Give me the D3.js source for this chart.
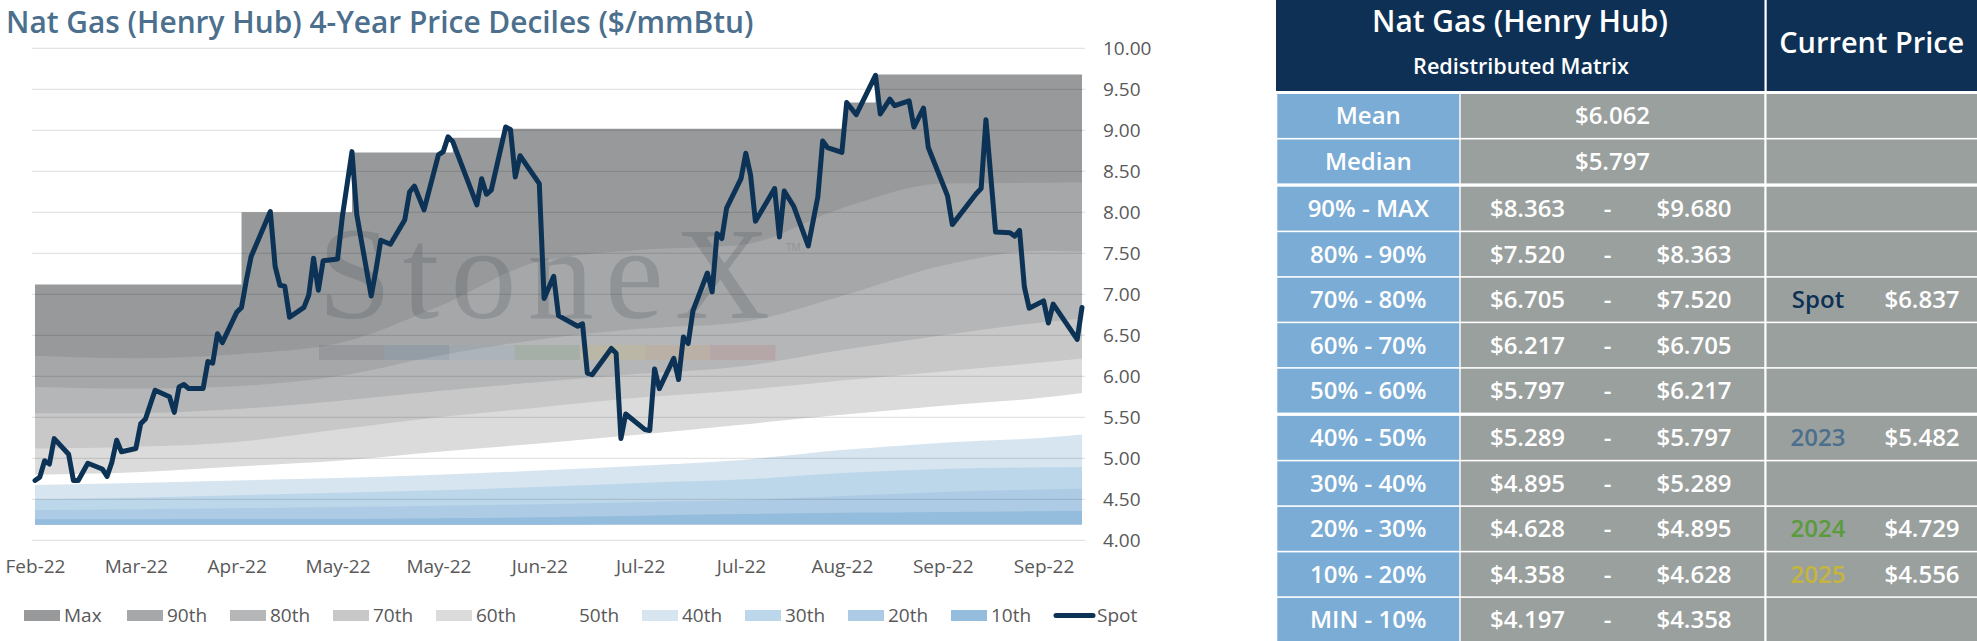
<!DOCTYPE html>
<html>
<head>
<meta charset="utf-8">
<script src="https://cdn.jsdelivr.net/npm/d3@7"></script>
<style>
  html, body { margin: 0; padding: 0; background: #fff; }
  svg { display: block; }
</style>
</head>
<body>
<svg id="chart" width="1977" height="641"></svg>
<script>
// spot price, one row per traded day that shows as a corner on the line
const spotSeries = [
  ["2022-02-28",4.73],["2022-03-01",4.77],["2022-03-02",4.97],["2022-03-03",4.93],["2022-03-04",5.24],
  ["2022-03-07",5.05],["2022-03-08",4.73],["2022-03-09",4.73],["2022-03-11",4.94],["2022-03-14",4.87],
  ["2022-03-15",4.78],["2022-03-16",4.95],["2022-03-17",5.22],["2022-03-18",5.08],["2022-03-21",5.12],
  ["2022-03-22",5.42],["2022-03-23",5.48],["2022-03-25",5.83],["2022-03-28",5.75],["2022-03-29",5.56],
  ["2022-03-30",5.87],["2022-03-31",5.90],["2022-04-01",5.85],["2022-04-04",5.85],["2022-04-05",6.18],
  ["2022-04-06",6.16],["2022-04-07",6.52],["2022-04-08",6.41],["2022-04-11",6.78],["2022-04-12",6.84],
  ["2022-04-13",7.17],["2022-04-14",7.46],["2022-04-18",8.01],["2022-04-19",7.34],["2022-04-20",7.11],
  ["2022-04-21",7.10],["2022-04-22",6.72],["2022-04-25",6.84],["2022-04-26",6.99],["2022-04-27",7.44],
  ["2022-04-28",7.05],["2022-04-29",7.41],["2022-05-02",7.43],["2022-05-03",7.95],["2022-05-05",8.74],
  ["2022-05-06",7.97],["2022-05-09",6.98],["2022-05-10",7.30],["2022-05-11",7.66],["2022-05-13",7.61],
  ["2022-05-16",7.91],["2022-05-17",8.25],["2022-05-18",8.32],["2022-05-20",8.03],["2022-05-23",8.70],
  ["2022-05-24",8.74],["2022-05-25",8.92],["2022-05-26",8.86],["2022-05-31",8.09],["2022-06-01",8.41],
  ["2022-06-02",8.22],["2022-06-03",8.27],["2022-06-06",9.04],["2022-06-07",9.01],["2022-06-08",8.43],
  ["2022-06-09",8.69],["2022-06-13",8.35],["2022-06-14",6.95],["2022-06-16",7.22],["2022-06-17",6.74],
  ["2022-06-21",6.61],["2022-06-22",6.64],["2022-06-23",6.04],["2022-06-24",6.02],["2022-06-28",6.34],
  ["2022-06-29",6.28],["2022-06-30",5.24],["2022-07-01",5.54],["2022-07-05",5.35],["2022-07-06",5.34],
  ["2022-07-07",6.09],["2022-07-08",5.85],["2022-07-11",6.22],["2022-07-12",5.96],["2022-07-13",6.48],
  ["2022-07-14",6.40],["2022-07-15",6.80],["2022-07-18",7.26],["2022-07-19",7.03],["2022-07-20",7.74],
  ["2022-07-21",7.68],["2022-07-22",8.05],["2022-07-25",8.41],["2022-07-26",8.72],["2022-07-27",8.45],
  ["2022-07-28",7.89],["2022-08-01",8.29],["2022-08-02",7.70],["2022-08-03",8.26],["2022-08-05",8.07],
  ["2022-08-08",7.59],["2022-08-10",8.19],["2022-08-11",8.87],["2022-08-12",8.79],["2022-08-15",8.73],
  ["2022-08-16",9.34],["2022-08-18",9.19],["2022-08-22",9.67],["2022-08-23",9.20],["2022-08-25",9.38],
  ["2022-08-26",9.30],["2022-08-29",9.36],["2022-08-30",9.04],["2022-09-01",9.27],["2022-09-02",8.79],
  ["2022-09-06",8.20],["2022-09-07",7.85],["2022-09-12",8.23],["2022-09-13",8.29],["2022-09-14",9.13],
  ["2022-09-16",7.76],["2022-09-19",7.75],["2022-09-20",7.71],["2022-09-21",7.78],["2022-09-22",7.09],
  ["2022-09-23",6.83],["2022-09-26",6.92],["2022-09-27",6.65],["2022-09-28",6.88],["2022-10-03",6.45],
  ["2022-10-04",6.84]
];

// rolling 4-year max (steps up when spot sets a new high)
const maxSeries = [
  ["2022-02-28",7.12],["2022-04-12",8.00],["2022-05-05",8.73],["2022-05-26",8.91],
  ["2022-06-06",9.02],["2022-08-16",9.34],["2022-08-22",9.68],["2022-10-04",9.68]
];

// decile levels, sampled every three weeks
const decileDates = ["2022-02-28","2022-03-21","2022-04-11","2022-05-02","2022-05-23","2022-06-13",
                     "2022-07-04","2022-07-25","2022-08-15","2022-09-05","2022-09-26","2022-10-04"];
const p90  = [6.25, 6.22, 6.27, 6.40, 6.85, 7.40, 7.54, 7.60, 8.05, 8.35, 8.36, 8.363];
const p80  = [5.87, 5.85, 5.88, 6.00, 6.25, 6.45, 6.58, 6.66, 6.98, 7.35, 7.53, 7.520];
const p70  = [5.55, 5.55, 5.60, 5.70, 5.82, 5.93, 6.03, 6.12, 6.32, 6.50, 6.66, 6.705];
const p60  = [5.12, 5.14, 5.20, 5.35, 5.50, 5.62, 5.74, 5.83, 5.95, 6.06, 6.17, 6.217];
const p50  = [4.80, 4.83, 4.90, 4.97, 5.08, 5.18, 5.29, 5.41, 5.53, 5.64, 5.74, 5.797];
const p40  = [4.675, 4.70, 4.73, 4.76, 4.80, 4.85, 4.91, 4.98, 5.10, 5.19, 5.25, 5.289];
const p30  = [4.50, 4.52, 4.55, 4.58, 4.61, 4.65, 4.70, 4.74, 4.82, 4.87, 4.89, 4.895];
const p20  = [4.37, 4.38, 4.39, 4.405, 4.42, 4.44, 4.465, 4.49, 4.54, 4.59, 4.62, 4.628];
const p10  = [4.256, 4.257, 4.26, 4.26, 4.27, 4.28, 4.30, 4.32, 4.335, 4.345, 4.355, 4.358];
const pMin = [4.19, 4.19, 4.19, 4.19, 4.19, 4.19, 4.195, 4.195, 4.197, 4.197, 4.197, 4.197];

const tickDates = ["2022-02-28","2022-03-21","2022-04-11","2022-05-02","2022-05-23","2022-06-13",
                   "2022-07-04","2022-07-25","2022-08-15","2022-09-05","2022-09-26"];
const yTickValues = [4.0, 4.5, 5.0, 5.5, 6.0, 6.5, 7.0, 7.5, 8.0, 8.5, 9.0, 9.5, 10.0];

const legendNames = ["Max","90th","80th","70th","60th","50th","40th","30th","20th","10th","Spot"];

// table
const statNames = ["Mean","Median"];
const statValues = [6.062, 5.797];
const rangeNames = ["90% - MAX","80% - 90%","70% - 80%","60% - 70%","50% - 60%",
                    "40% - 50%","30% - 40%","20% - 30%","10% - 20%","MIN - 10%"];
const rangeLow  = [8.363, 7.520, 6.705, 6.217, 5.797, 5.289, 4.895, 4.628, 4.358, 4.197];
const rangeHigh = [9.680, 8.363, 7.520, 6.705, 6.217, 5.797, 5.289, 4.895, 4.628, 4.358];
const currentNames  = ["Spot","2023","2024","2025"];
const currentValues = [6.837, 5.482, 4.729, 4.556];

// ---------------------------------------------------------------
const FONT = "'Open Sans', 'Noto Sans', sans-serif";
const parse = d3.utcParse("%Y-%m-%d");
const svg = d3.select("#chart");

const bandColor = {
  "Max":"#98999b","90th":"#a6a7a9","80th":"#b5b6b8","70th":"#c8c8c8","60th":"#dbdbdb",
  "50th":"#ffffff","40th":"#d7e5f1","30th":"#bdd7ea","20th":"#adcbe4","10th":"#94bcdd","Spot":"#0c3355"
};
const bandValues = {"90th":p90,"80th":p80,"70th":p70,"60th":p60,"50th":p50,"40th":p40,"30th":p30,"20th":p20,"10th":p10};

const x = d3.scaleUtc()
  .domain([parse(decileDates[0]), parse(decileDates[decileDates.length - 1])])
  .range([35, 1082]);
const y = d3.scaleLinear().domain([4, 10]).range([540.3, 48.3]);

function fitWidth(sel, target){
  let w = sel.node().getComputedTextLength();
  let fs = parseFloat(sel.attr("font-size"));
  sel.attr("font-size", fs * target / w);
}

// title
let title = svg.append("text")
  .attr("x", 6).attr("y", 33)
  .attr("font-family", FONT).attr("font-weight", 600).attr("font-size", 30)
  .attr("fill", "#4b6f8c")
  .text("Nat Gas (Henry Hub) 4-Year Price Deciles ($/mmBtu)");
fitWidth(title, 748);

// bands, painted from the top one down; each runs down to the min line
let chart = svg.append("g");
let floor = y(d3.min(pMin));
chart.append("path")
  .datum(maxSeries)
  .attr("d", d3.area().curve(d3.curveStepAfter)
    .x(d => x(parse(d[0]))).y0(floor).y1(d => y(d[1])))
  .attr("fill", bandColor["Max"]);

Object.keys(bandValues).forEach(name => {
  let rows = decileDates.map((d, i) => ({date: parse(d), v: bandValues[name][i], lo: pMin[i]}));
  chart.append("path")
    .datum(rows)
    .attr("d", d3.area().curve(d3.curveMonotoneX)
      .x(r => x(r.date)).y0(r => y(r.lo)).y1(r => y(r.v)))
    .attr("fill", bandColor[name]);
});

// gridlines sit over the bands
chart.selectAll(".grid")
  .data(yTickValues)
  .enter().append("line")
  .attr("class", "grid")
  .attr("x1", 32).attr("x2", 1085)
  .attr("y1", d => y(d)).attr("y2", d => y(d))
  .attr("stroke", "#000").attr("stroke-opacity", 0.14).attr("stroke-width", 1);

// watermark
let wm = chart.append("g").attr("opacity", 0.2);
wm.append("text")
  .attr("x", 318).attr("y", 318)
  .attr("font-family", "'Liberation Serif', 'DejaVu Serif', serif")
  .attr("font-size", 132)
  .attr("textLength", 452).attr("lengthAdjust", "spacing")
  .attr("fill", "#3d4650")
  .text("StoneX");
wm.append("text")
  .attr("x", 786).attr("y", 251)
  .attr("font-family", FONT).attr("font-size", 10)
  .attr("fill", "#3d4650")
  .text("TM");
const stripColors = ["#3b4148","#2f5f8f","#7fa8cc","#4b8a4b","#d8bd3a","#e08d3a","#b5484b"];
wm.selectAll(".strip")
  .data(stripColors)
  .enter().append("rect")
  .attr("class", "strip")
  .attr("x", (d, i) => 319 + i * 65.2).attr("y", 345)
  .attr("width", 65.2).attr("height", 15)
  .attr("fill", d => d)
  .attr("opacity", 0.7);

// spot line
chart.append("path")
  .datum(spotSeries)
  .attr("d", d3.line().x(d => x(parse(d[0]))).y(d => y(d[1])))
  .attr("fill", "none")
  .attr("stroke", bandColor["Spot"])
  .attr("stroke-width", 5)
  .attr("stroke-linejoin", "round")
  .attr("stroke-linecap", "round");

// axes
let xAxis = svg.append("g")
  .attr("transform", "translate(0,559)")
  .call(d3.axisBottom(x)
    .tickValues(tickDates.map(parse))
    .tickFormat(d3.utcFormat("%b-%y"))
    .tickSize(0).tickPadding(0));
xAxis.select(".domain").remove();
xAxis.selectAll("text")
  .attr("font-family", FONT).attr("font-size", 19).attr("fill", "#595959");

let yAxis = svg.append("g")
  .attr("transform", "translate(1103,0)")
  .call(d3.axisRight(y)
    .tickValues(yTickValues)
    .tickFormat(d3.format(".2f"))
    .tickSize(0).tickPadding(0));
yAxis.select(".domain").remove();
yAxis.selectAll("text")
  .attr("font-family", FONT).attr("font-size", 19).attr("fill", "#595959");

// legend
let legend = svg.append("g").attr("transform", "translate(24,615.5)");
let item = legend.selectAll(".item")
  .data(legendNames)
  .enter().append("g")
  .attr("class", "item")
  .attr("transform", (d, i) => `translate(${i * 103},0)`);
item.filter(d => d !== "Spot").append("rect")
  .attr("x", 0).attr("y", -5.5).attr("width", 36).attr("height", 11)
  .attr("fill", d => bandColor[d]);
item.filter(d => d === "Spot").append("line")
  .attr("x1", 2).attr("x2", 39).attr("y1", 0).attr("y2", 0)
  .attr("stroke", bandColor["Spot"]).attr("stroke-width", 5).attr("stroke-linecap", "round");
item.append("text")
  .attr("x", d => d === "Spot" ? 43 : 40).attr("y", 0).attr("dy", "0.36em")
  .attr("font-family", FONT).attr("font-size", 19).attr("fill", "#595959")
  .text(d => d);

// ---------------- table ----------------
const tb = {left: 1276, right: 1977, headBottom: 91, sep: 1764.5,
            aL: 1277.3, aR: 1459.3, bL: 1460.7, bR: 1764.3, cL: 1766.5,
            top: 94, pitch: 45.5, cellH: 43.9, thick: 1.7};
const NAVY = "#0d3054", BLUE = "#7bacd5", GREY = "#9aa09e";
const fmt = d3.format("$.3f");
let table = svg.append("g");

table.append("rect")
  .attr("x", tb.left).attr("y", 0).attr("width", tb.right - tb.left).attr("height", tb.headBottom)
  .attr("fill", NAVY);
table.append("rect")
  .attr("x", tb.sep).attr("y", 0).attr("width", 2.2).attr("height", tb.headBottom)
  .attr("fill", "#fff");

let h1 = table.append("text")
  .attr("x", 1520).attr("y", 32).attr("text-anchor", "middle")
  .attr("font-family", FONT).attr("font-weight", 600).attr("font-size", 26).attr("fill", "#fff")
  .text("Nat Gas (Henry Hub)");
fitWidth(h1, 296);
let h2 = table.append("text")
  .attr("x", 1521).attr("y", 74).attr("text-anchor", "middle")
  .attr("font-family", FONT).attr("font-weight", 600).attr("font-size", 18).attr("fill", "#fff")
  .text("Redistributed Matrix");
fitWidth(h2, 216);
let h3 = table.append("text")
  .attr("x", (tb.cL + tb.right) / 2).attr("y", 53).attr("text-anchor", "middle")
  .attr("font-family", FONT).attr("font-weight", 600).attr("font-size", 26).attr("fill", "#fff")
  .text("Current Price");
fitWidth(h3, 185);

const rowNames = statNames.concat(rangeNames);
const rowTop = i => tb.top + i * tb.pitch + (i >= 2 ? tb.thick : 0) + (i >= 7 ? tb.thick : 0);

let row = table.selectAll(".row")
  .data(rowNames)
  .enter().append("g")
  .attr("class", "row")
  .attr("transform", (d, i) => `translate(0,${rowTop(i)})`);

row.append("rect").attr("x", tb.aL).attr("width", tb.aR - tb.aL).attr("height", tb.cellH).attr("fill", BLUE);
row.append("rect").attr("x", tb.bL).attr("width", tb.bR - tb.bL).attr("height", tb.cellH).attr("fill", GREY);
row.append("rect").attr("x", tb.cL).attr("width", tb.right - tb.cL).attr("height", tb.cellH).attr("fill", GREY);

const cellText = (g, xPos, txt, color) => g.append("text")
  .attr("x", xPos).attr("y", tb.cellH / 2 + 8.5).attr("text-anchor", "middle")
  .attr("font-family", FONT).attr("font-weight", 600).attr("font-size", 24)
  .attr("fill", color || "#fff")
  .text(txt);

row.each(function(d, i){
  let g = d3.select(this);
  cellText(g, (tb.aL + tb.aR) / 2, d);
  if (i < 2) {
    cellText(g, (tb.bL + tb.bR) / 2, fmt(statValues[i]));
  } else {
    let j = i - 2;
    cellText(g, 1527.5, fmt(rangeLow[j]));
    cellText(g, 1607.5, "-");
    cellText(g, 1694, fmt(rangeHigh[j]));
  }
});

const currentColor = {"Spot":"#0d3054","2023":"#4b6f8c","2024":"#5a9b3c","2025":"#c6b53c"};
currentNames.forEach((name, k) => {
  let v = currentValues[k];
  let j = rangeLow.findIndex((lo, idx) => v >= lo && v < rangeHigh[idx]);
  let g = table.append("g").attr("transform", `translate(0,${rowTop(j + 2)})`);
  cellText(g, 1818, name, currentColor[name]);
  cellText(g, 1922, fmt(v));
});
</script>
</body>
</html>
